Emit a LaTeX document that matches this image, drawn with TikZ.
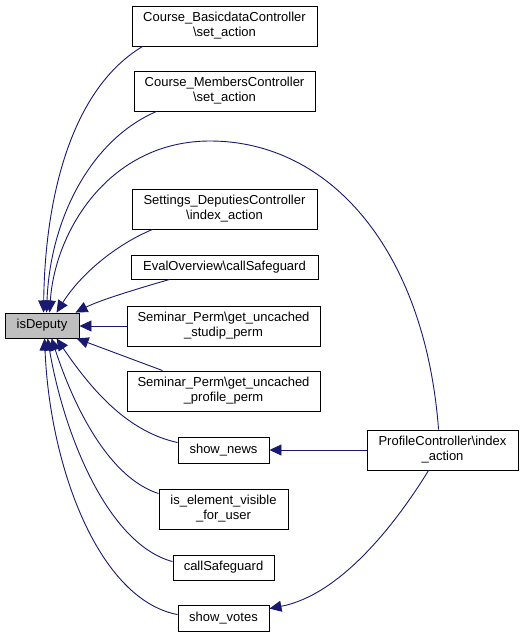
\documentclass[tikz,border=0pt]{standalone}
\usepackage{fontspec}
\setmainfont{Liberation Sans}
\usetikzlibrary{arrows.meta,calc}
\definecolor{edgeblue}{HTML}{191970}
\definecolor{boxline}{HTML}{000000}
\definecolor{hlfill}{HTML}{BFBFBF}
\begin{document}
\begin{tikzpicture}[x=1pt,y=-1pt,
  fn/.style={draw=boxline,line width=0.9pt,rectangle,inner sep=0pt,align=center,
    font=\fontsize{13}{15}\selectfont},
  hl/.style={fn,fill=hlfill},
  call/.style={draw=edgeblue,line width=0.9pt,-{Triangle[length=12pt,width=11pt]},fill=none},
]
\useasboundingbox (0,0) rectangle (525,637);
\fill[white] (0,0) rectangle (525,637);

\node[hl,minimum width=74pt,minimum height=25pt] (isd) at (42,325.5) {isDeputy};
\node[fn,minimum width=185pt,minimum height=40pt] (cb) at (224.5,26) {Course\_BasicdataController\\\textbackslash set\_action};
\node[fn,minimum width=181pt,minimum height=40pt] (cm) at (224.5,91) {Course\_MembersController\\\textbackslash set\_action};
\node[fn,minimum width=185pt,minimum height=40pt] (sd) at (224.5,209) {Settings\_DeputiesController\\\textbackslash index\_action};
\node[fn,minimum width=187pt,minimum height=24pt] (eo) at (224.5,267) {EvalOverview\textbackslash callSafeguard};
\node[fn,minimum width=193pt,minimum height=40pt] (ss) at (223.5,326) {Seminar\_Perm\textbackslash get\_uncached\\\_studip\_perm};
\node[fn,minimum width=193pt,minimum height=40pt] (sp) at (223.5,391) {Seminar\_Perm\textbackslash get\_uncached\\\_profile\_perm};
\node[fn,minimum width=91pt,minimum height=26pt] (sn) at (223.5,450) {show\_news};
\node[fn,minimum width=151pt,minimum height=40pt] (pc) at (442.5,450) {ProfileController\textbackslash index\\\_action};
\node[fn,minimum width=129pt,minimum height=40pt] (ie) at (223.5,509) {is\_element\_visible\\\_for\_user};
\node[fn,minimum width=101pt,minimum height=25pt] (cs) at (223.5,567.5) {callSafeguard};
\node[fn,minimum width=91pt,minimum height=26pt] (sv) at (223.5,618) {show\_votes};

% edges into isDeputy, top side
\draw[call] ($(cb.south west)+(11,0)$) .. controls (70,90) and (45,200) .. ($(isd.north west)+(39,0)$);
\draw[call] ($(cm.south west)+(23,0)$) .. controls (90,140) and (50,220) .. ($(isd.north west)+(42,0)$);
\draw[call] ($(pc.north west)+(72,0)$) .. controls (425,250) and (330,141) .. (210,141)
   .. controls (110,141) and (55,230) .. ($(isd.north west)+(45,0)$);
\draw[call] ($(sd.south west)+(21,0)$) .. controls (115,245) and (80,275) .. ($(isd.north west)+(52,0)$);
\draw[call] ($(eo.south west)+(39,0)$) .. controls (140,288) and (100,300) .. ($(isd.north west)+(71,0)$);
% straight ones
\draw[call] (ss.west) -- (ss.west -| isd.east);
\draw[call] ($(sp.north west)+(36,0)$) -- ($(isd.south west)+(72,0)$);
% bottom side
\draw[call] ($(sn.north west)+(0,6)$) .. controls (130,432) and (95,395) .. ($(isd.south west)+(52,0)$);
\draw[call] ($(ie.north west)+(0,5)$) .. controls (110,478) and (75,410) .. ($(isd.south west)+(47,0)$);
\draw[call] ($(cs.north west)+(0,7)$) .. controls (110,545) and (65,440) .. ($(isd.south west)+(43,0)$);
\draw[call] ($(sv.north west)+(0,10)$) .. controls (100,600) and (50,470) .. ($(isd.south west)+(40,0)$);
% ProfileController callers
\draw[call] (pc.west) -- (sn.east);
\draw[call] ($(pc.south west)+(62,0)$) .. controls (395,525) and (340,595) .. ($(sv.north east)+(0,4)$);
\end{tikzpicture}
\end{document}
